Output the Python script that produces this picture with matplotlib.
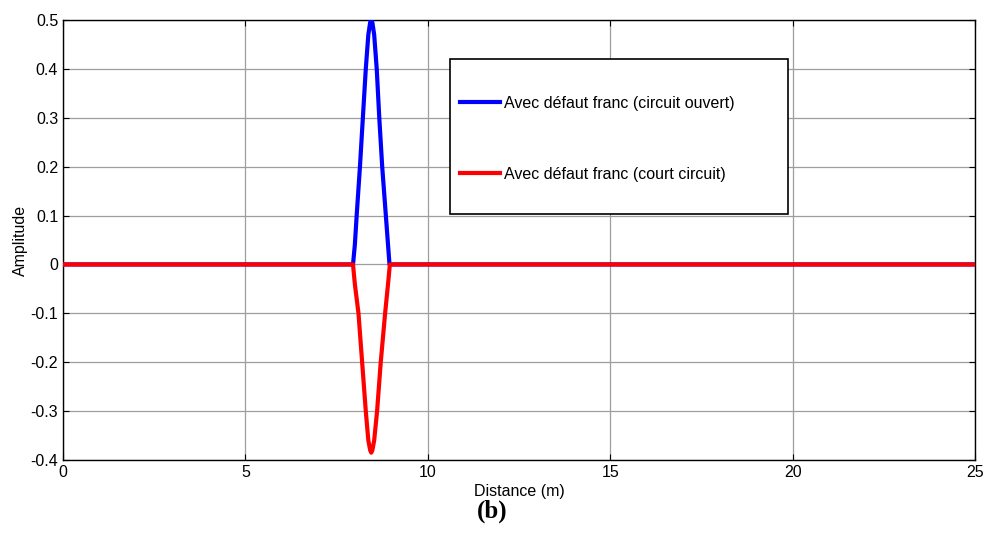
import matplotlib
matplotlib.use("Agg")
import matplotlib.pyplot as plt
from matplotlib.patches import Rectangle

plt.rcParams['font.family'] = ['Liberation Sans', 'DejaVu Sans']

# Reflected pulse, open-circuit fault (distance in m, amplitude)
open_x = [0.0, 7.95, 8.00, 8.05, 8.14, 8.22, 8.30, 8.37, 8.42, 8.45, 8.48,
          8.53, 8.60, 8.67, 8.75, 8.85, 8.91, 8.95, 25.0]
open_y = [0.0, 0.0, 0.04, 0.10, 0.20, 0.30, 0.40, 0.47, 0.495, 0.50, 0.495,
          0.47, 0.40, 0.30, 0.20, 0.10, 0.04, 0.0, 0.0]

# Reflected pulse, short-circuit fault
short_x = [0.0, 7.95, 8.00, 8.10, 8.20, 8.30, 8.37, 8.42, 8.45, 8.48,
           8.53, 8.61, 8.71, 8.83, 8.91, 8.96, 25.0]
short_y = [0.0, 0.0, -0.04, -0.10, -0.20, -0.30, -0.36, -0.38, -0.385, -0.38,
           -0.36, -0.30, -0.20, -0.10, -0.04, 0.0, 0.0]

labels = ["Avec défaut franc (circuit ouvert)", "Avec défaut franc (court circuit)"]
x_ticks = [0, 5, 10, 15, 20, 25]
y_ticks = [-0.4, -0.3, -0.2, -0.1, 0, 0.1, 0.2, 0.3, 0.4, 0.5]

FS = 11.5

fig = plt.figure(figsize=(9.84, 5.5), dpi=100)
ax = fig.add_axes([63/984, 1 - 460/550, 912/984, 440/550])

l1, = ax.plot(open_x, open_y, color=(0, 0, 1), lw=3.0, zorder=3)
l2, = ax.plot(short_x, short_y, color=(1, 0, 0), lw=3.0, zorder=3.1)

ax.set_xlim(0, 25)
ax.set_ylim(-0.4, 0.5)
ax.set_xticks(x_ticks)
ax.set_xticklabels([str(t) for t in x_ticks])
ax.set_yticks(y_ticks)
ax.set_yticklabels(["0" if t == 0 else f"{t:g}" for t in y_ticks])
ax.grid(True, color=(0.62, 0.62, 0.62), lw=0.9, zorder=0)
ax.set_axisbelow(True)
ax.tick_params(direction='in', top=True, right=True, length=4, width=0.8,
               labelsize=FS, pad=3.5, colors='black')
for s in ax.spines.values():
    s.set_linewidth(1.0)
    s.set_color('black')

ax.set_xlabel("Distance (m)", fontsize=FS, labelpad=3)
ax.set_ylabel("Amplitude", fontsize=FS, labelpad=2)

# Legend frame
x0, x1 = (450 - 63) / 912, (788 - 63) / 912
y1, y0 = 1 - (59 - 20) / 440, 1 - (214 - 20) / 440
ax.add_patch(Rectangle((x0, y0), x1 - x0, y1 - y0, transform=ax.transAxes,
                       facecolor='white', edgecolor='black', lw=1.2, zorder=4))
leg = ax.legend([l1, l2], labels, loc='center left',
                bbox_to_anchor=(x0 - 0.0035, 1 - (139 - 20) / 440),
                frameon=False, fontsize=FS, labelspacing=3.5,
                handlelength=2.55, handletextpad=0.25, borderpad=0.3)
leg.set_zorder(5)

fig.text(0.5, 1 - 511/550, "(b)", ha='center', va='center',
         fontsize=18, fontweight='bold', family=['Liberation Serif', 'DejaVu Serif'])

fig.savefig("out.png", dpi=100)
